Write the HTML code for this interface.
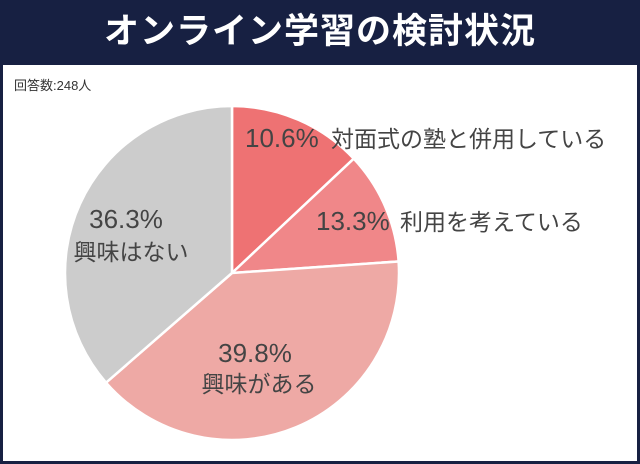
<!DOCTYPE html>
<html><head><meta charset="utf-8">
<style>
body{margin:0;width:640px;height:464px;overflow:hidden;background:#fff;font-family:"Liberation Sans","Noto Sans CJK JP",sans-serif;}
#frame{position:absolute;left:0;top:0;width:640px;height:464px;box-sizing:border-box;border:3px solid #172042;border-top:none;}
#hdr{position:absolute;left:0;top:0;width:640px;height:65px;background:#172042;color:#fff;font-size:35px;font-weight:bold;text-align:center;line-height:64px;letter-spacing:1px;}
#n{position:absolute;left:14px;top:75px;font-size:13px;color:#333;}
svg{position:absolute;left:0;top:0;}
</style></head><body>
<div id="frame"></div>
<div id="hdr">オンライン学習の検討状況</div>
<div id="n">回答数:248人</div>
<svg id="pie" width="640" height="464"></svg>
<script>
const categories=["対面式の塾と併用している","利用を考えている","興味がある","興味はない"];
// slice sizes as drawn in the reference picture
const values=[13.0,10.9,39.7,36.4];
// percentages printed on the chart
const printedValues=["10.6%","13.3%","39.8%","36.3%"];
const colors=["#ee7273","#f08789","#eea9a5","#cccccc"];
const cx=232,cy=273,r=167;
const svg=document.getElementById('pie');
const NS="http://www.w3.org/2000/svg";
const total=values.reduce((a,b)=>a+b,0);
function pt(a,rr){return [cx+rr*Math.sin(a),cy-rr*Math.cos(a)];}
let a0=0;
values.forEach((v,i)=>{
  const a1=a0+v/total*2*Math.PI;
  const p0=pt(a0,r),p1=pt(a1,r);
  const large=(a1-a0)>Math.PI?1:0;
  const p=document.createElementNS(NS,'path');
  p.setAttribute('d',`M${cx},${cy}L${p0[0]},${p0[1]}A${r},${r} 0 ${large} 1 ${p1[0]},${p1[1]}Z`);
  p.setAttribute('fill',colors[i]);p.setAttribute('stroke','#fff');p.setAttribute('stroke-width','2.5');
  
  
  svg.appendChild(p);
  a0=a1;
});
function txt(x,y,s,size,anchor,name){
  const t=document.createElementNS(NS,'text');
  t.setAttribute('x',x);t.setAttribute('y',y);t.setAttribute('font-size',size);
  t.setAttribute('fill','#444');t.setAttribute('text-anchor',anchor);
  t.setAttribute('font-family','"Liberation Sans","Noto Sans CJK JP",sans-serif');
  t.textContent=s;
  
  
  svg.appendChild(t);
}
txt(245,147,printedValues[0],26,'start','label-value-0');
txt(331,147,categories[0],23,'start','label-name-0');
txt(316,230,printedValues[1],26,'start','label-value-1');
txt(400,230,categories[1],23,'start','label-name-1');
txt(255,362,printedValues[2],26,'middle','label-value-2');
txt(259,392,categories[2],23,'middle','label-name-2');
txt(126,228,printedValues[3],26,'middle','label-value-3');
txt(131,260,categories[3],23,'middle','label-name-3');
</script>
</body></html>
